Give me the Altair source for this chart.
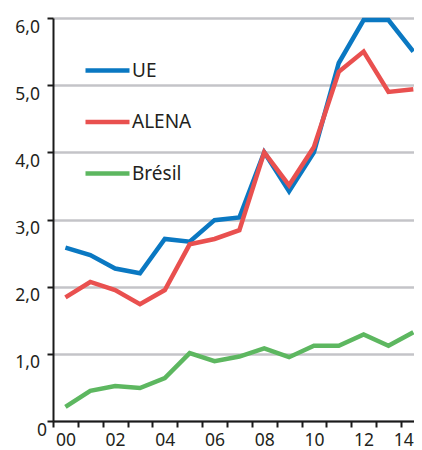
import altair as alt
import pandas as pd

years = list(range(2000, 2015))
ue = [2.58, 2.47, 2.27, 2.20, 2.71, 2.67, 2.99, 3.03, 4.00, 3.42, 4.00, 5.33, 5.97, 5.97, 5.50]
alena = [1.84, 2.07, 1.95, 1.74, 1.95, 2.63, 2.71, 2.84, 4.00, 3.51, 4.08, 5.20, 5.50, 4.90, 4.94]
bresil = [0.21, 0.45, 0.52, 0.49, 0.64, 1.01, 0.89, 0.96, 1.08, 0.95, 1.12, 1.12, 1.29, 1.12, 1.32]

series = ["UE", "ALENA", "Brésil"]
colors = ["#0a78c2", "#e9504f", "#5db760"]

rows = []
for name, vals in zip(series, [ue, alena, bresil]):
    for y, v in zip(years, vals):
        rows.append({"annee": y, "valeur": v, "serie": name})
df = pd.DataFrame(rows)

FONT = "Noto Sans"
STEP = 24.85
W = 361
x_max = 1999.5 + W / STEP

chart = alt.Chart(df).mark_line(strokeWidth=4.5, clip=False).encode(
    x=alt.X("annee:Q",
            scale=alt.Scale(domain=[1999.5, x_max], nice=False, zero=False),
            axis=alt.Axis(values=years, title=None, grid=False,
                          labelExpr="datum.value % 2 == 0 ? slice(toString(datum.value), 2) : ''",
                          tickOffset=-STEP / 2, labelOffset=STEP / 2, tickSize=6, tickWidth=2,
                          tickColor="#1a1a1a", domainColor="#1a1a1a", domainWidth=2,
                          labelFontSize=17.5, labelFont=FONT, labelColor="#231f20",
                          labelAlign={"condition": {"test": "datum.value == 2014", "value": "right"},
                                      "value": "center"},
                          labelPadding=4.5, labelOverlap=False, labelFlush=False)),
    y=alt.Y("valeur:Q",
            scale=alt.Scale(domain=[0, 6], nice=False),
            axis=alt.Axis(values=[0, 1, 2, 3, 4, 5, 6], title=None,
                          labelExpr="datum.value == 0 ? '0' : replace(format(datum.value, '.1f'), '.', ',')",
                          grid=True, gridColor="#c4c4c8", gridWidth=2.5,
                          tickSize=6, tickWidth=2, tickColor="#1a1a1a",
                          domainColor="#1a1a1a", domainWidth=2,
                          labelFontSize=17.5, labelFont=FONT, labelColor="#231f20",
                          labelBaseline="top",
                          labelPadding={"condition": {"test": "datum.value == 0", "value": 0.5},
                                        "value": 7.5})),
    color=alt.Color("serie:N", sort=series,
                    scale=alt.Scale(domain=series, range=colors),
                    legend=alt.Legend(title=None, orient="none", legendX=30, legendY=28,
                                      symbolType="stroke", symbolSize=1936,
                                      symbolStrokeWidth=4.5, labelFontSize=19,
                                      labelFont=FONT, labelColor="#231f20",
                                      labelOffset=0, rowPadding=16.5, padding=0)),
).properties(
    width=W, height=403,
    autosize=alt.AutoSizeParams(type="none"),
    padding={"left": 45, "top": 10, "right": 0, "bottom": 29},
).configure_view(stroke=None)

chart.save("out.html", embed_options={"renderer": "svg", "actions": False})
